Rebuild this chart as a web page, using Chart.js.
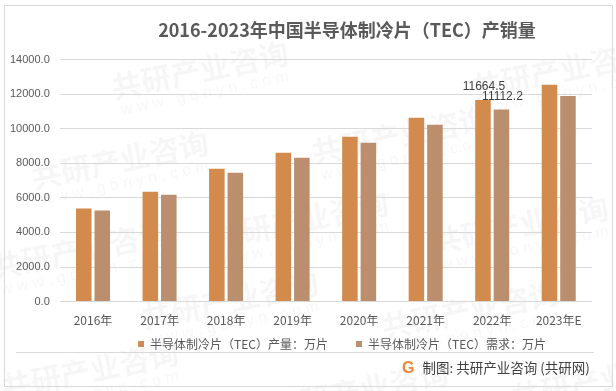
<!DOCTYPE html>
<html lang="zh-CN">
<head>
<meta charset="utf-8">
<script src="https://cdn.jsdelivr.net/npm/chart.js@4.4.1/dist/chart.umd.min.js"></script>
<style>
    html, body { margin: 0; padding: 0; background: #fff; }
    #wrap { position: relative; width: 616px; height: 391px; }
    #frame { position: absolute; left: 4px; top: 5px; width: 609px; height: 382px; border: 1px solid #d9d9d9; box-sizing: border-box; pointer-events: none; }
    #rule { position: absolute; left: 16px; top: 352px; width: 578px; border-top: 1px solid #d9d9d9; }
    #source { position: absolute; left: 402px; top: 357px; font: 13.5px "Noto Sans CJK SC", sans-serif; color: #404040; white-space: nowrap; }
    #source .logo { display: inline-block; font: bold 16px "Liberation Sans", sans-serif; color: #f0883a; margin-right: 8px; }
</style>
</head>
<body>
<div id="wrap">
    <canvas id="tecChart" width="616" height="391"></canvas>
    <div id="frame"></div>
    <div id="rule"></div>
    <div id="source"><span class="logo">G</span>制图: 共研产业咨询 (共研网)</div>
</div>
<script>
// chart data
const years = ['2016年', '2017年', '2018年', '2019年', '2020年', '2021年', '2022年', '2023年E'];
const outputValues = [5380, 6360, 7690, 8610, 9540, 10630, 11664.5, 12540];
const demandValues = [5265, 6185, 7455, 8320, 9190, 10230, 11112.2, 11900];
const seriesNames = ['半导体制冷片（TEC）产量：万片', '半导体制冷片（TEC）需求：万片'];
const seriesColors = ['#D38B4D', '#BB8F6D'];
const labelledIndex = 6;   // only 2022 carries value labels

const cjkFont = '"Noto Sans CJK SC", "Liberation Sans", sans-serif';
const latinFont = '"Liberation Sans", "Noto Sans CJK SC", sans-serif';

// faint company watermark behind everything
const watermark = {
    id: 'watermark',
    beforeDraw(chart) {
        const ctx = chart.ctx;
        ctx.save();
        const spots = [[200, 70], [560, 70], [400, 135], [120, 160], [300, 220], [520, 225],
                       [80, 250], [230, 300], [470, 310], [90, 370], [360, 390], [600, 380]];
        spots.forEach(([x, y]) => {
            ctx.save();
            ctx.translate(x, y);
            ctx.rotate(-0.2);
            ctx.fillStyle = 'rgba(0,0,0,0.035)';
            ctx.font = 'bold 30px ' + cjkFont;
            ctx.textAlign = 'center';
            ctx.fillText('共研产业咨询', 0, 0);
            ctx.font = '16px "Liberation Sans", sans-serif';
            ctx.fillText('w w w . g o n y n . c o m', 0, 24);
            ctx.restore();
        });
        ctx.restore();
    }
};

// value labels above the 2022 bars
const valueLabels = {
    id: 'valueLabels',
    afterDatasetsDraw(chart) {
        const ctx = chart.ctx;
        ctx.save();
        ctx.font = '12px ' + latinFont;
        ctx.fillStyle = '#404040';
        ctx.textAlign = 'center';
        ctx.textBaseline = 'middle';
        chart.data.datasets.forEach((ds, di) => {
            const bar = chart.getDatasetMeta(di).data[labelledIndex];
            ctx.fillText(ds.data[labelledIndex].toFixed(1), bar.x + 1, bar.y - 13);
        });
        ctx.restore();
    }
};

// title and legend in the reference sit right of centre
const shiftBlocks = {
    id: 'shiftBlocks',
    afterLayout(chart) {
        chart.titleBlock.left += 51;
        chart.titleBlock.right += 51;
        chart.legend.left += 46;
        chart.legend.right += 46;
        chart.legend.top -= 4;
        chart.legend.bottom -= 4;
    }
};

new Chart(document.getElementById('tecChart'), {
    type: 'bar',
    data: {
        labels: years,
        datasets: [
            { label: seriesNames[0], data: outputValues, backgroundColor: seriesColors[0] },
            { label: seriesNames[1], data: demandValues, backgroundColor: seriesColors[1] }
        ]
    },
    options: {
        responsive: false,
        animation: false,
        categoryPercentage: 0.556,
        barPercentage: 0.84,
        layout: { padding: { left: 0, right: 24, bottom: 27 } },
        scales: {
            x: {
                grid: { display: false },
                border: { display: false },
                ticks: { color: '#595959', font: { size: 12, family: cjkFont }, padding: 4 }
            },
            y: {
                min: 0, max: 14000,
                ticks: {
                    stepSize: 2000, color: '#595959', padding: 10,
                    font: { size: 11, family: latinFont },
                    callback: v => v.toFixed(1)
                },
                grid: { color: '#d9d9d9', drawTicks: false },
                border: { display: false }
            }
        },
        plugins: {
            title: {
                display: true,
                text: '2016-2023年中国半导体制冷片（TEC）产销量',
                color: '#595959',
                font: { size: 18, weight: 'bold', family: cjkFont },
                padding: { top: 19, bottom: 19 }
            },
            legend: {
                position: 'bottom',
                labels: {
                    boxWidth: 6, boxHeight: 6, padding: 10, color: '#595959',
                    font: { size: 12, family: cjkFont },
                    // wider gap after the first item, as in the reference
                    generateLabels(chart) {
                        const items = Chart.defaults.plugins.legend.labels.generateLabels(chart);
                        items[0].text += '\u3000\u2002';
                        return items;
                    }
                }
            },
            tooltip: { enabled: false }
        }
    },
    plugins: [watermark, valueLabels, shiftBlocks]
});
</script>
</body>
</html>
